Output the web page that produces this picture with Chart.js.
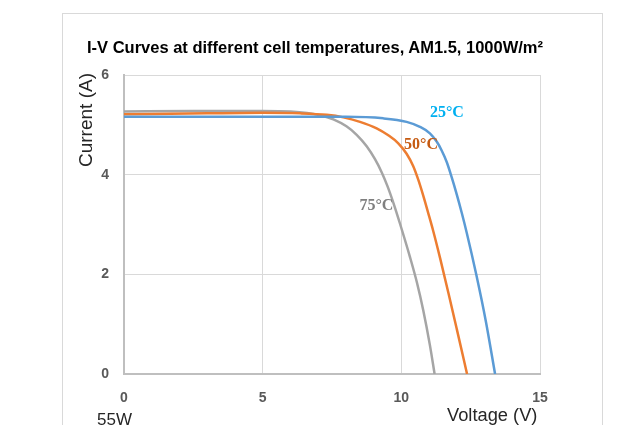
<!DOCTYPE html>
<html>
<head>
<meta charset="utf-8">
<script src="https://cdn.jsdelivr.net/npm/chart.js@4"></script>
<style>
  html, body { margin: 0; padding: 0; background: #ffffff; }
  #wrap { position: relative; width: 638px; height: 425px; overflow: hidden; }
  #frame { position: absolute; left: 62px; top: 13px; width: 541px; height: 430px;
           border: 1px solid #D9D9D9; border-bottom: none; box-sizing: border-box; }
  canvas { position: absolute; left: 0; top: 0; }
  .txt { position: absolute; white-space: nowrap; line-height: 1; font-family: "Liberation Sans", Arial, sans-serif; color: #000; }
  #title { left: 87px; top: 39px; font-size: 16.5px; font-weight: bold; }
  #ytitle { left: 75.5px; top: 167px; font-size: 19px; transform: rotate(-90deg); transform-origin: 0 0; color: #262626; }
  #xtitle { left: 447px; top: 406px; font-size: 18.3px; color: #262626; }
  #note { left: 97px; top: 411px; font-size: 17px; color: #262626; }
</style>
</head>
<body>
<div id="wrap">
  <div id="frame"></div>
  <canvas id="c" width="638" height="425"></canvas>
  <div class="txt" id="title">I-V Curves at different cell temperatures, AM1.5, 1000W/m²</div>
  <div class="txt" id="ytitle">Current (A)</div>
  <div class="txt" id="xtitle">Voltage (V)</div>
  <div class="txt" id="note">55W</div>
</div>
<script>
// ---- data ----
const seriesNames = ["25°C", "50°C", "75°C"];

const voltage25 = [0, 3, 6, 8, 9.35, 10.19, 10.67, 11.03, 11.28, 11.45, 11.64, 11.82, 12.0, 12.18, 12.36, 12.7, 13.05, 13.38];
const current25 = [5.16, 5.16, 5.16, 5.16, 5.13, 5.06, 4.96, 4.83, 4.66, 4.49, 4.25, 3.94, 3.60, 3.23, 2.83, 2.00, 1.05, 0];

const voltage50 = [0, 3, 5, 6.35, 7.31, 7.91, 8.51, 9.11, 9.53, 9.89, 10.19, 10.43, 10.61, 10.79, 10.97, 11.15, 11.4, 11.7, 12.0, 12.37];
const current50 = [5.21, 5.23, 5.24, 5.23, 5.20, 5.15, 5.06, 4.93, 4.79, 4.63, 4.42, 4.17, 3.90, 3.58, 3.23, 2.87, 2.32, 1.62, 0.90, 0];

const voltage75 = [0, 2.5, 5, 6, 6.6, 7.07, 7.55, 8.02, 8.39, 8.75, 9.05, 9.29, 9.5, 9.71, 9.95, 10.31, 10.56, 10.79, 11.03, 11.2];
const current75 = [5.27, 5.28, 5.28, 5.27, 5.24, 5.19, 5.11, 4.97, 4.80, 4.57, 4.31, 4.05, 3.77, 3.44, 3.02, 2.35, 1.84, 1.28, 0.58, 0];

const xTicks = [0, 5, 10, 15];
const yTicks = [0, 2, 4, 6];

// curve label anchors (data coordinates)
const labelV = [11.03, 10.10, 8.49];
const labelI = [5.15, 4.51, 3.30];

// ---- styling ----
const lineColors = ["#5B9BD5", "#ED7D31", "#A5A5A5"];
const labelColors = ["#00B0F0", "#C55A11", "#7F7F7F"];

function pts(xs, ys) { return xs.map((x, i) => ({ x: x, y: ys[i] })); }
const allV = [voltage25, voltage50, voltage75];
const allI = [current25, current50, current75];

const datasets = seriesNames.map((name, k) => ({
  label: name,
  data: pts(allV[k], allI[k]),
  showLine: true,
  borderColor: lineColors[k],
  backgroundColor: lineColors[k],
  borderWidth: 2.5,
  pointRadius: 0,
  cubicInterpolationMode: 'monotone',
  fill: false
}));

const curveLabels = {
  id: 'curveLabels',
  afterDatasetsDraw(chart) {
    const ctx = chart.ctx;
    const xs = chart.scales.x, ys = chart.scales.y;
    ctx.save();
    ctx.font = 'bold 16px "Liberation Serif", "Times New Roman", serif';
    ctx.textAlign = 'left';
    ctx.textBaseline = 'alphabetic';
    seriesNames.forEach((name, k) => {
      ctx.fillStyle = labelColors[k];
      ctx.fillText(name, xs.getPixelForValue(labelV[k]), ys.getPixelForValue(labelI[k]));
    });
    ctx.restore();
  }
};

const tickFont = { family: '"Liberation Sans", Arial, sans-serif', size: 14, weight: 'bold' };

new Chart(document.getElementById('c'), {
  type: 'scatter',
  data: { datasets: datasets },
  options: {
    responsive: false,
    animation: false,
    devicePixelRatio: 1,
    layout: { padding: { top: 75, left: 0, right: 98, bottom: 0 } },
    plugins: { legend: { display: false }, title: { display: false }, tooltip: { enabled: false } },
    scales: {
      x: {
        type: 'linear', min: 0, max: 15,
        afterBuildTicks: (s) => { s.ticks = xTicks.map(v => ({ value: v })); },
        afterFit: (s) => { s.height = 51; },
        ticks: { color: '#595959', font: tickFont, padding: 16, maxRotation: 0 },
        grid: { color: '#D9D9D9', lineWidth: 1, drawTicks: false },
        border: { color: '#BFBFBF', width: 2 }
      },
      y: {
        type: 'linear', min: 0, max: 6,
        afterBuildTicks: (s) => { s.ticks = yTicks.map(v => ({ value: v })); },
        afterFit: (s) => { s.width = 124; },
        ticks: { color: '#595959', font: tickFont, padding: 15 },
        grid: { color: '#D9D9D9', lineWidth: 1, drawTicks: false },
        border: { color: '#BFBFBF', width: 2 }
      }
    }
  },
  plugins: [curveLabels]
});
</script>
</body>
</html>
